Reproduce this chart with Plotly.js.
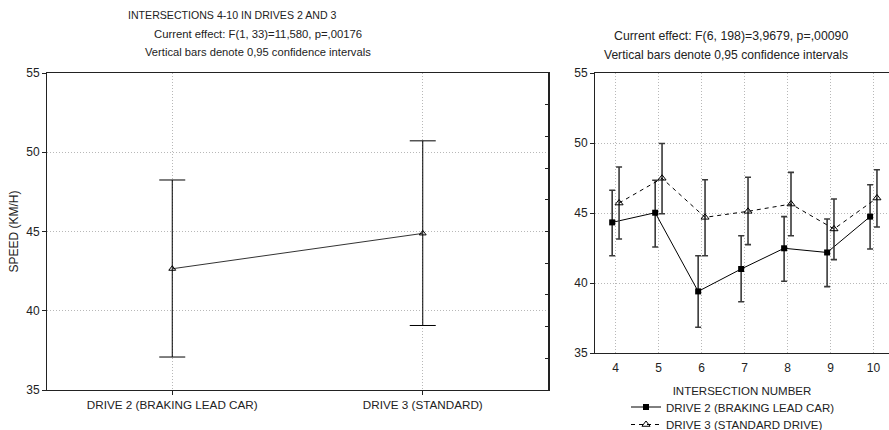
<!DOCTYPE html>
<html>
<head>
<meta charset="utf-8">
<script src="https://cdn.plot.ly/plotly-3.0.1.min.js"></script>
<style>
html,body{margin:0;padding:0;background:#fff;overflow:hidden;}
#chart{width:889px;height:450px;}
</style>
</head>
<body>
<div id="chart"></div>
<script>
// ---- Left panel data ----
const driveCats = ['DRIVE 2 (BRAKING LEAD CAR)', 'DRIVE 3 (STANDARD)'];
const driveMeans = [42.65, 44.88];
const driveLower = [37.08, 39.07];
const driveUpper = [48.25, 50.72];

// ---- Right panel data ----
const intersections = [4, 5, 6, 7, 8, 9, 10];
const drive2Mean  = [44.33, 45.02, 39.40, 41.00, 42.48, 42.18, 44.74];
const drive2Lower = [41.95, 42.57, 36.84, 38.66, 40.12, 39.74, 42.43];
const drive2Upper = [46.62, 47.34, 41.95, 43.38, 44.74, 44.57, 47.02];
const drive3Mean  = [45.71, 47.48, 44.69, 45.12, 45.64, 43.86, 46.07];
const drive3Lower = [43.14, 44.95, 41.95, 42.74, 43.38, 41.67, 44.00];
const drive3Upper = [48.29, 49.96, 47.38, 47.55, 47.90, 46.00, 48.09];
const legendNames = ['DRIVE 2 (BRAKING LEAD CAR)', 'DRIVE 3 (STANDARD DRIVE)'];

const FONT = 'Liberation Sans, Arial, sans-serif';
const W = 889, H = 450; // page window is 430 tall; extra space is clipped
const px = v => v / W;
const py = v => 1 - v / H;

const plus = (u, m) => u.map((v, i) => v - m[i]);
const minus = (m, l) => m.map((v, i) => v - l[i]);
const shift = (arr, d) => arr.map(v => v + d);

const traces = [
  {
    x: driveCats, y: driveMeans, xaxis: 'x', yaxis: 'y',
    type: 'scatter', mode: 'lines+markers', showlegend: false,
    line: {color: '#333', width: 1},
    marker: {symbol: 'triangle-up-open', size: 6, color: '#000', line: {width: 1}},
    error_y: {type: 'data', symmetric: false, array: plus(driveUpper, driveMeans),
              arrayminus: minus(driveMeans, driveLower), color: '#000', thickness: 1, width: 13}
  },
  {
    x: driveCats, y: driveMeans, xaxis: 'x', yaxis: 'y2', type: 'scatter', mode: 'none',
    showlegend: false, hoverinfo: 'skip'
  },
  {
    x: shift(intersections, -0.08), y: drive2Mean, xaxis: 'x2', yaxis: 'y3',
    type: 'scatter', mode: 'lines+markers', name: legendNames[0], legend: 'legend',
    line: {color: '#000', width: 1},
    marker: {symbol: 'square', size: 6, color: '#000'},
    error_y: {type: 'data', symmetric: false, array: plus(drive2Upper, drive2Mean),
              arrayminus: minus(drive2Mean, drive2Lower), color: '#3a3a3a', thickness: 1.6, width: 3}
  },
  {
    x: shift(intersections, 0.08), y: drive3Mean, xaxis: 'x2', yaxis: 'y3',
    type: 'scatter', mode: 'lines+markers', name: legendNames[1], legend: 'legend2',
    line: {color: '#000', width: 1, dash: '4px,4px'},
    marker: {symbol: 'triangle-up-open', size: 7, color: '#000', line: {width: 1}},
    error_y: {type: 'data', symmetric: false, array: plus(drive3Upper, drive3Mean),
              arrayminus: minus(drive3Mean, drive3Lower), color: '#3a3a3a', thickness: 1.6, width: 3}
  }
];

const gridCommon = {gridcolor: '#b8b8b8', griddash: '1px,2px', gridwidth: 1, zeroline: false};
const legendCommon = {
  xanchor: 'left', yanchor: 'top', bgcolor: 'rgba(0,0,0,0)', borderwidth: 0,
  font: {size: 11.5, family: FONT, color: '#222'}, tracegroupgap: 0, itemwidth: 30
};

const layout = {
  width: W, height: H,
  margin: {l: 0, r: 0, t: 0, b: 0},
  paper_bgcolor: '#fff', plot_bgcolor: '#fff',
  font: {family: FONT, size: 12, color: '#222'},
  xaxis: Object.assign({}, gridCommon, {
    domain: [px(47), px(548)], anchor: 'y', type: 'category', range: [-0.5, 1.5],
    showline: true, linecolor: '#222', linewidth: 1, mirror: true,
    ticks: 'outside', ticklen: 4, tickcolor: '#222',
    tickfont: {size: 11.7, family: FONT, color: '#222'}
  }),
  yaxis: Object.assign({}, gridCommon, {
    domain: [py(390), py(73)], anchor: 'x', range: [35, 55], tickvals: [35, 40, 45, 50, 55],
    showline: true, linecolor: '#222', linewidth: 1,
    ticks: 'outside', ticklen: 4, tickcolor: '#222',
    tickfont: {size: 12, family: FONT, color: '#222'},
    title: {text: 'SPEED (KM/H)', font: {size: 12, family: FONT, color: '#222'}, standoff: 5}
  }),
  yaxis2: {
    overlaying: 'y', side: 'right', anchor: 'x', range: [35, 55],
    tickvals: [37, 39, 41, 43, 45, 47, 49, 51, 53], showticklabels: false,
    ticks: 'inside', ticklen: 3, tickcolor: '#222', showgrid: false, zeroline: false,
    showline: true, linecolor: '#222', linewidth: 1.5
  },
  xaxis2: Object.assign({}, gridCommon, {
    domain: [px(595), 1], anchor: 'y3', range: [3.52, 10.36],
    tickvals: intersections, showline: true, linecolor: '#222', linewidth: 1, mirror: true,
    ticks: '', ticklabelstandoff: 4, tickfont: {size: 12, family: FONT, color: '#222'},
    title: {text: 'INTERSECTION NUMBER', font: {size: 11.5, family: FONT, color: '#222'}, standoff: 12}
  }),
  yaxis3: Object.assign({}, gridCommon, {
    domain: [py(353), py(73)], anchor: 'x2', range: [35, 55], tickvals: [35, 40, 45, 50, 55],
    showline: true, linecolor: '#222', linewidth: 1,
    ticks: 'outside', ticklen: 4, tickcolor: '#222',
    tickfont: {size: 12, family: FONT, color: '#222'}
  }),
  showlegend: true,
  legend: Object.assign({}, legendCommon, {x: px(626), y: py(392.5)}),
  legend2: Object.assign({}, legendCommon, {x: px(626), y: py(410)}),
  annotations: [
    {text: 'INTERSECTIONS 4-10 IN DRIVES 2 AND 3', x: px(232), y: py(15), xref: 'paper', yref: 'paper',
     showarrow: false, xanchor: 'center', yanchor: 'middle', font: {size: 10.6, family: FONT, color: '#222'}},
    {text: 'Current effect: F(1, 33)=11,580, p=,00176', x: px(258), y: py(34), xref: 'paper', yref: 'paper',
     showarrow: false, xanchor: 'center', yanchor: 'middle', font: {size: 11.3, family: FONT, color: '#222'}},
    {text: 'Vertical bars denote 0,95 confidence intervals', x: px(258), y: py(52), xref: 'paper', yref: 'paper',
     showarrow: false, xanchor: 'center', yanchor: 'middle', font: {size: 11.2, family: FONT, color: '#222'}},
    {text: 'Current effect: F(6, 198)=3,9679, p=,00090', x: px(731), y: py(36), xref: 'paper', yref: 'paper',
     showarrow: false, xanchor: 'center', yanchor: 'middle', font: {size: 12.3, family: FONT, color: '#222'}},
    {text: 'Vertical bars denote 0,95 confidence intervals', x: px(726), y: py(55), xref: 'paper', yref: 'paper',
     showarrow: false, xanchor: 'center', yanchor: 'middle', font: {size: 12.1, family: FONT, color: '#222'}}
  ]
};

Plotly.newPlot('chart', traces, layout, {displayModeBar: false, staticPlot: true});
</script>
</body>
</html>
